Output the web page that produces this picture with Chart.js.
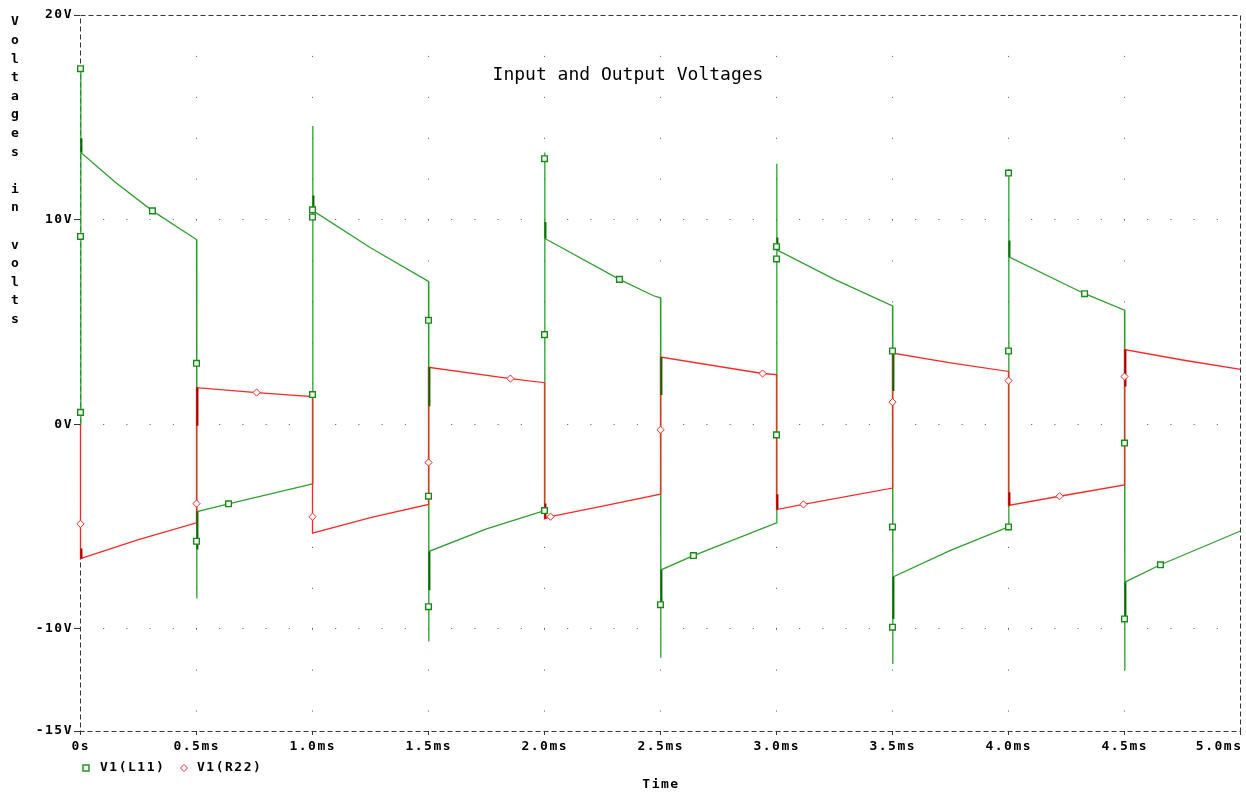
<!DOCTYPE html>
<html>
<head>
<meta charset="utf-8">
<title>Input and Output Voltages</title>
<script src="https://cdn.jsdelivr.net/npm/chart.js@4.4.1/dist/chart.umd.min.js"></script>
<style>
  html, body { margin: 0; padding: 0; background: #fff; }
  #wrap { width: 1246px; height: 793px; position: relative; }
  canvas { display: block; }
</style>
</head>
<body>
<div id="wrap"><canvas id="plot" width="1246" height="793"></canvas></div>
<script>
// ---- axis ticks ----
const timeTicks = [0, 0.5, 1.0, 1.5, 2.0, 2.5, 3.0, 3.5, 4.0, 4.5, 5.0];
const timeLabels = ['0s', '0.5ms', '1.0ms', '1.5ms', '2.0ms', '2.5ms', '3.0ms', '3.5ms', '4.0ms', '4.5ms', '5.0ms'];
const voltTicks = [-15, -10, 0, 10, 20];
const voltLabels = ['-15V', '-10V', '0V', '10V', '20V'];

// ---- V1(L11) trace (time in ms, volts) ----
const l11Time = [0, 0, 0.003, 0.15, 0.31, 0.5,
  0.5, 0.503, 0.638, 1.0,
  1.0, 1.003, 1.25, 1.5,
  1.5, 1.503, 1.75, 2.0,
  2.0, 2.003, 2.323, 2.47, 2.5,
  2.5, 2.503, 2.642, 3.0,
  3.0, 3.003, 3.25, 3.5,
  3.5, 3.503, 3.75, 4.0,
  4.0, 4.003, 4.328, 4.5,
  4.5, 4.503, 4.655, 5.0];
const l11Volts = [0, 17.4, 13.3, 11.85, 10.45, 9.05,
  -8.5, -4.25, -3.87, -2.9,
  14.6, 10.46, 8.65, 7.0,
  -10.6, -6.2, -5.1, -4.2,
  13.3, 9.1, 7.1, 6.3, 6.2,
  -11.4, -7.1, -6.4, -4.8,
  12.75, 8.55, 7.1, 5.8,
  -11.7, -7.45, -6.15, -5.0,
  12.5, 8.2, 6.4, 5.6,
  -12.0, -7.7, -6.85, -5.2];

// ---- V1(R22) trace ----
const r22Time = [0, 0, 0.25, 0.5,
  0.5, 0.759, 1.0,
  1.0, 1.25, 1.5,
  1.5, 1.853, 2.0,
  2.0, 2.026, 2.25, 2.5,
  2.5, 2.94, 3.0,
  3.0, 3.116, 3.5,
  3.5, 3.75, 4.0,
  4.0, 4.22, 4.5,
  4.5, 4.75, 5.0];
const r22Volts = [0, -6.55, -5.62, -4.8,
  1.81, 1.57, 1.37,
  -5.3, -4.55, -3.9,
  2.8, 2.25, 2.05,
  -4.6, -4.5, -3.98, -3.4,
  3.3, 2.5, 2.45,
  -4.15, -3.9, -3.1,
  3.5, 3.02, 2.6,
  -3.95, -3.5, -2.95,
  3.67, 3.16, 2.7];

// ---- ringing just after each switching edge (short dark runs) ----
const l11RingTime = [0, 0.5, 1.0, 1.5, 1.5, 2.0, 2.5, 2.5, 3.0, 3.5, 3.5, 4.0, 4.5];
const l11RingFrom = [14.0, -4.25, 11.2, 2.8, -6.2, 9.9, 3.3, -7.1, 9.15, 3.5, -7.45, 9.0, -7.7];
const l11RingTo   = [13.3, -6.1, 10.46, 0.9, -8.1, 9.1, 1.45, -8.9, 8.55, 1.65, -9.5, 8.2, -9.5];
const r22RingTime = [0, 0.5, 2.0, 3.0, 4.0, 4.5];
const r22RingFrom = [-6.05, 1.81, -3.85, -3.4, -3.3, 3.67];
const r22RingTo   = [-6.55, -0.05, -4.6, -4.15, -3.95, 1.87];

// ---- trace markers ----
const l11MarkTime = [0, 0, 0, 0.31, 0.5, 0.5, 0.638, 1.0, 1.0, 1.0, 1.5, 1.5, 1.5,
  2.0, 2.0, 2.0, 2.323, 2.5, 2.642, 3.0, 3.0, 3.0, 3.5, 3.5, 3.5,
  4.0, 4.0, 4.0, 4.328, 4.5, 4.5, 4.655];
const l11MarkVolts = [17.4, 9.2, 0.6, 10.45, 3.0, -5.7, -3.87, 10.5, 10.15, 1.47, 5.1, -3.5, -8.9,
  13.0, 4.4, -4.2, 7.1, -8.8, -6.4, 8.7, 8.1, -0.5, 3.6, -5.0, -9.9,
  12.3, 3.6, -5.0, 6.4, -0.9, -9.5, -6.85];
const r22MarkTime = [0, 0.5, 0.759, 1.0, 1.5, 1.853, 2.026, 2.5, 2.94, 3.116, 3.5, 4.0, 4.22, 4.5];
const r22MarkVolts = [-4.85, -3.86, 1.57, -4.5, -1.85, 2.25, -4.5, -0.25, 2.5, -3.9, 1.1, 2.15, -3.5, 2.35];

const GREEN = '#2f9e2f';
const GREEN_MARK = '#148c14';
const GREEN_DARK = '#066a06';
const RED = '#ff2626';
const RED_DARK = '#a80000';

function points(ts, vs) {
  return ts.map((t, i) => ({ x: t, y: vs[i] }));
}
// short vertical strokes, a hair right of the edge, separated by gaps
function strokes(ts, from, to) {
  const out = [];
  ts.forEach((t, i) => {
    out.push({ x: t + 0.004, y: from[i] }, { x: t + 0.004, y: to[i] }, { x: t + 0.004, y: null });
  });
  return out;
}

const MONO = '"DejaVu Sans Mono", "Liberation Mono", monospace';
const LABEL_FONT = 'bold 13px ' + MONO;

const decorations = {
  id: 'decorations',
  beforeDraw(chart) {
    chart.ctx.letterSpacing = '1.5px';
  },
  beforeDatasetsDraw(chart) {
    const { ctx, chartArea: a } = chart;
    ctx.save();
    ctx.strokeStyle = '#333';
    ctx.lineWidth = 1;
    ctx.setLineDash([5, 3]);
    ctx.strokeRect(a.left + 0.5, a.top + 0.5, a.right - a.left, a.bottom - a.top);
    ctx.restore();
    // put thin traces on pixel centres so the vertical edges stay crisp
    ctx.save();
    ctx.translate(0.5, 0.5);
  },
  afterDatasetsDraw(chart) {
    chart.ctx.restore();
  },
  afterDraw(chart) {
    const { ctx, chartArea: a } = chart;
    const xs = chart.scales.x;
    ctx.save();
    ctx.fillStyle = '#000';
    ctx.textBaseline = 'middle';

    // time tick labels, kept inside the canvas at the right end
    ctx.font = LABEL_FONT;
    ctx.letterSpacing = '1.5px';
    ctx.textAlign = 'left';
    timeTicks.forEach((t, i) => {
      const s = timeLabels[i];
      const w = ctx.measureText(s).width - 1.5;
      let x = xs.getPixelForValue(t) - w / 2;
      x = Math.min(x, chart.width - 5 - w);
      ctx.fillText(s, x, 747);
    });

    // legend
    ctx.strokeStyle = GREEN_MARK;
    ctx.lineWidth = 1.4;
    ctx.fillStyle = '#fff';
    ctx.fillRect(83, 765, 6, 6);
    ctx.strokeRect(83, 765, 6, 6);
    ctx.strokeStyle = RED;
    ctx.lineWidth = 1;
    ctx.beginPath();
    ctx.moveTo(184, 764.5); ctx.lineTo(187.5, 768); ctx.lineTo(184, 771.5); ctx.lineTo(180.5, 768); ctx.closePath();
    ctx.fill(); ctx.stroke();
    ctx.fillStyle = '#000';
    ctx.fillText('V1(L11)', 100, 768);
    ctx.fillText('V1(R22)', 197, 768);

    // x axis title
    ctx.textAlign = 'center';
    ctx.fillText('Time', (a.left + a.right) / 2 + 1, 785);

    // y axis title, one character per row
    ctx.letterSpacing = '0px';
    const yTitle = 'Voltages in volts';
    [...yTitle].forEach((ch, i) => {
      if (ch !== ' ') ctx.fillText(ch, 15, 22 + i * 18.6);
    });

    // plot title inside the frame
    ctx.font = '18px ' + MONO;
    ctx.fillText('Input and Output Voltages', 628, 75);
    ctx.restore();
    ctx.letterSpacing = '0px';
  }
};

new Chart(document.getElementById('plot'), {
  type: 'line',
  data: {
    datasets: [
      {
        label: 'V1(L11) markers', data: points(l11MarkTime, l11MarkVolts), showLine: false,
        pointStyle: 'rect', pointRadius: 4, pointBorderWidth: 1.4,
        pointBorderColor: GREEN_MARK, pointBackgroundColor: '#fff', order: 0, clip: false
      },
      {
        label: 'V1(R22) markers', data: points(r22MarkTime, r22MarkVolts), showLine: false,
        pointStyle: 'rectRot', pointRadius: 3.6, pointBorderWidth: 1,
        pointBorderColor: RED, pointBackgroundColor: '#fff', order: 0, clip: false
      },
      {
        label: 'L11 ringing', data: strokes(l11RingTime, l11RingFrom, l11RingTo),
        borderColor: GREEN_DARK, borderWidth: 2, pointRadius: 0, spanGaps: false, order: 1, clip: false
      },
      {
        label: 'R22 ringing', data: strokes(r22RingTime, r22RingFrom, r22RingTo),
        borderColor: RED_DARK, borderWidth: 2, pointRadius: 0, spanGaps: false, order: 1, clip: false
      },
      {
        label: 'V1(R22)', data: points(r22Time, r22Volts),
        borderColor: RED, borderWidth: 1.3, pointRadius: 0, tension: 0, order: 2, clip: false
      },
      {
        label: 'V1(L11)', data: points(l11Time, l11Volts),
        borderColor: GREEN, borderWidth: 1.3, pointRadius: 0, tension: 0, order: 3, clip: false
      }
    ]
  },
  options: {
    responsive: false,
    animation: false,
    events: [],
    layout: { padding: { top: 15, right: 6, left: 0, bottom: 0 } },
    plugins: { legend: { display: false }, tooltip: { enabled: false }, title: { display: false } },
    scales: {
      x: {
        type: 'linear', min: 0, max: 5,
        afterBuildTicks: s => { s.ticks = timeTicks.map(v => ({ value: v })); },
        afterFit: s => { s.height = 62; s.paddingLeft = 0; s.paddingRight = 0; },
        ticks: { display: false },
        grid: {
          color: c => (c.tick && (c.tick.value === 0 || c.tick.value === 5)) ? 'rgba(0,0,0,0)' : '#555',
          lineWidth: 1, drawTicks: true, tickLength: 4, tickColor: '#333', tickBorderDash: []
        },
        border: { display: false, dash: [1, 39.914] }
      },
      y: {
        type: 'linear', min: -15, max: 20,
        afterBuildTicks: s => { s.ticks = voltTicks.map(v => ({ value: v })); },
        afterFit: s => { s.width = 80; s.paddingTop = 0; s.paddingBottom = 0; },
        ticks: {
          autoSkip: false, padding: 1, color: '#000',
          font: { family: MONO, weight: 'bold', size: 13 },
          callback: v => voltLabels[voltTicks.indexOf(v)]
        },
        grid: {
          color: c => (c.tick && (c.tick.value === -15 || c.tick.value === 20)) ? 'rgba(0,0,0,0)' : '#555',
          lineWidth: 1, drawTicks: true, tickLength: 6, tickColor: '#333', tickBorderDash: []
        },
        border: { display: false, dash: [1, 22.2] }
      }
    }
  },
  plugins: [decorations]
});
</script>
</body>
</html>
